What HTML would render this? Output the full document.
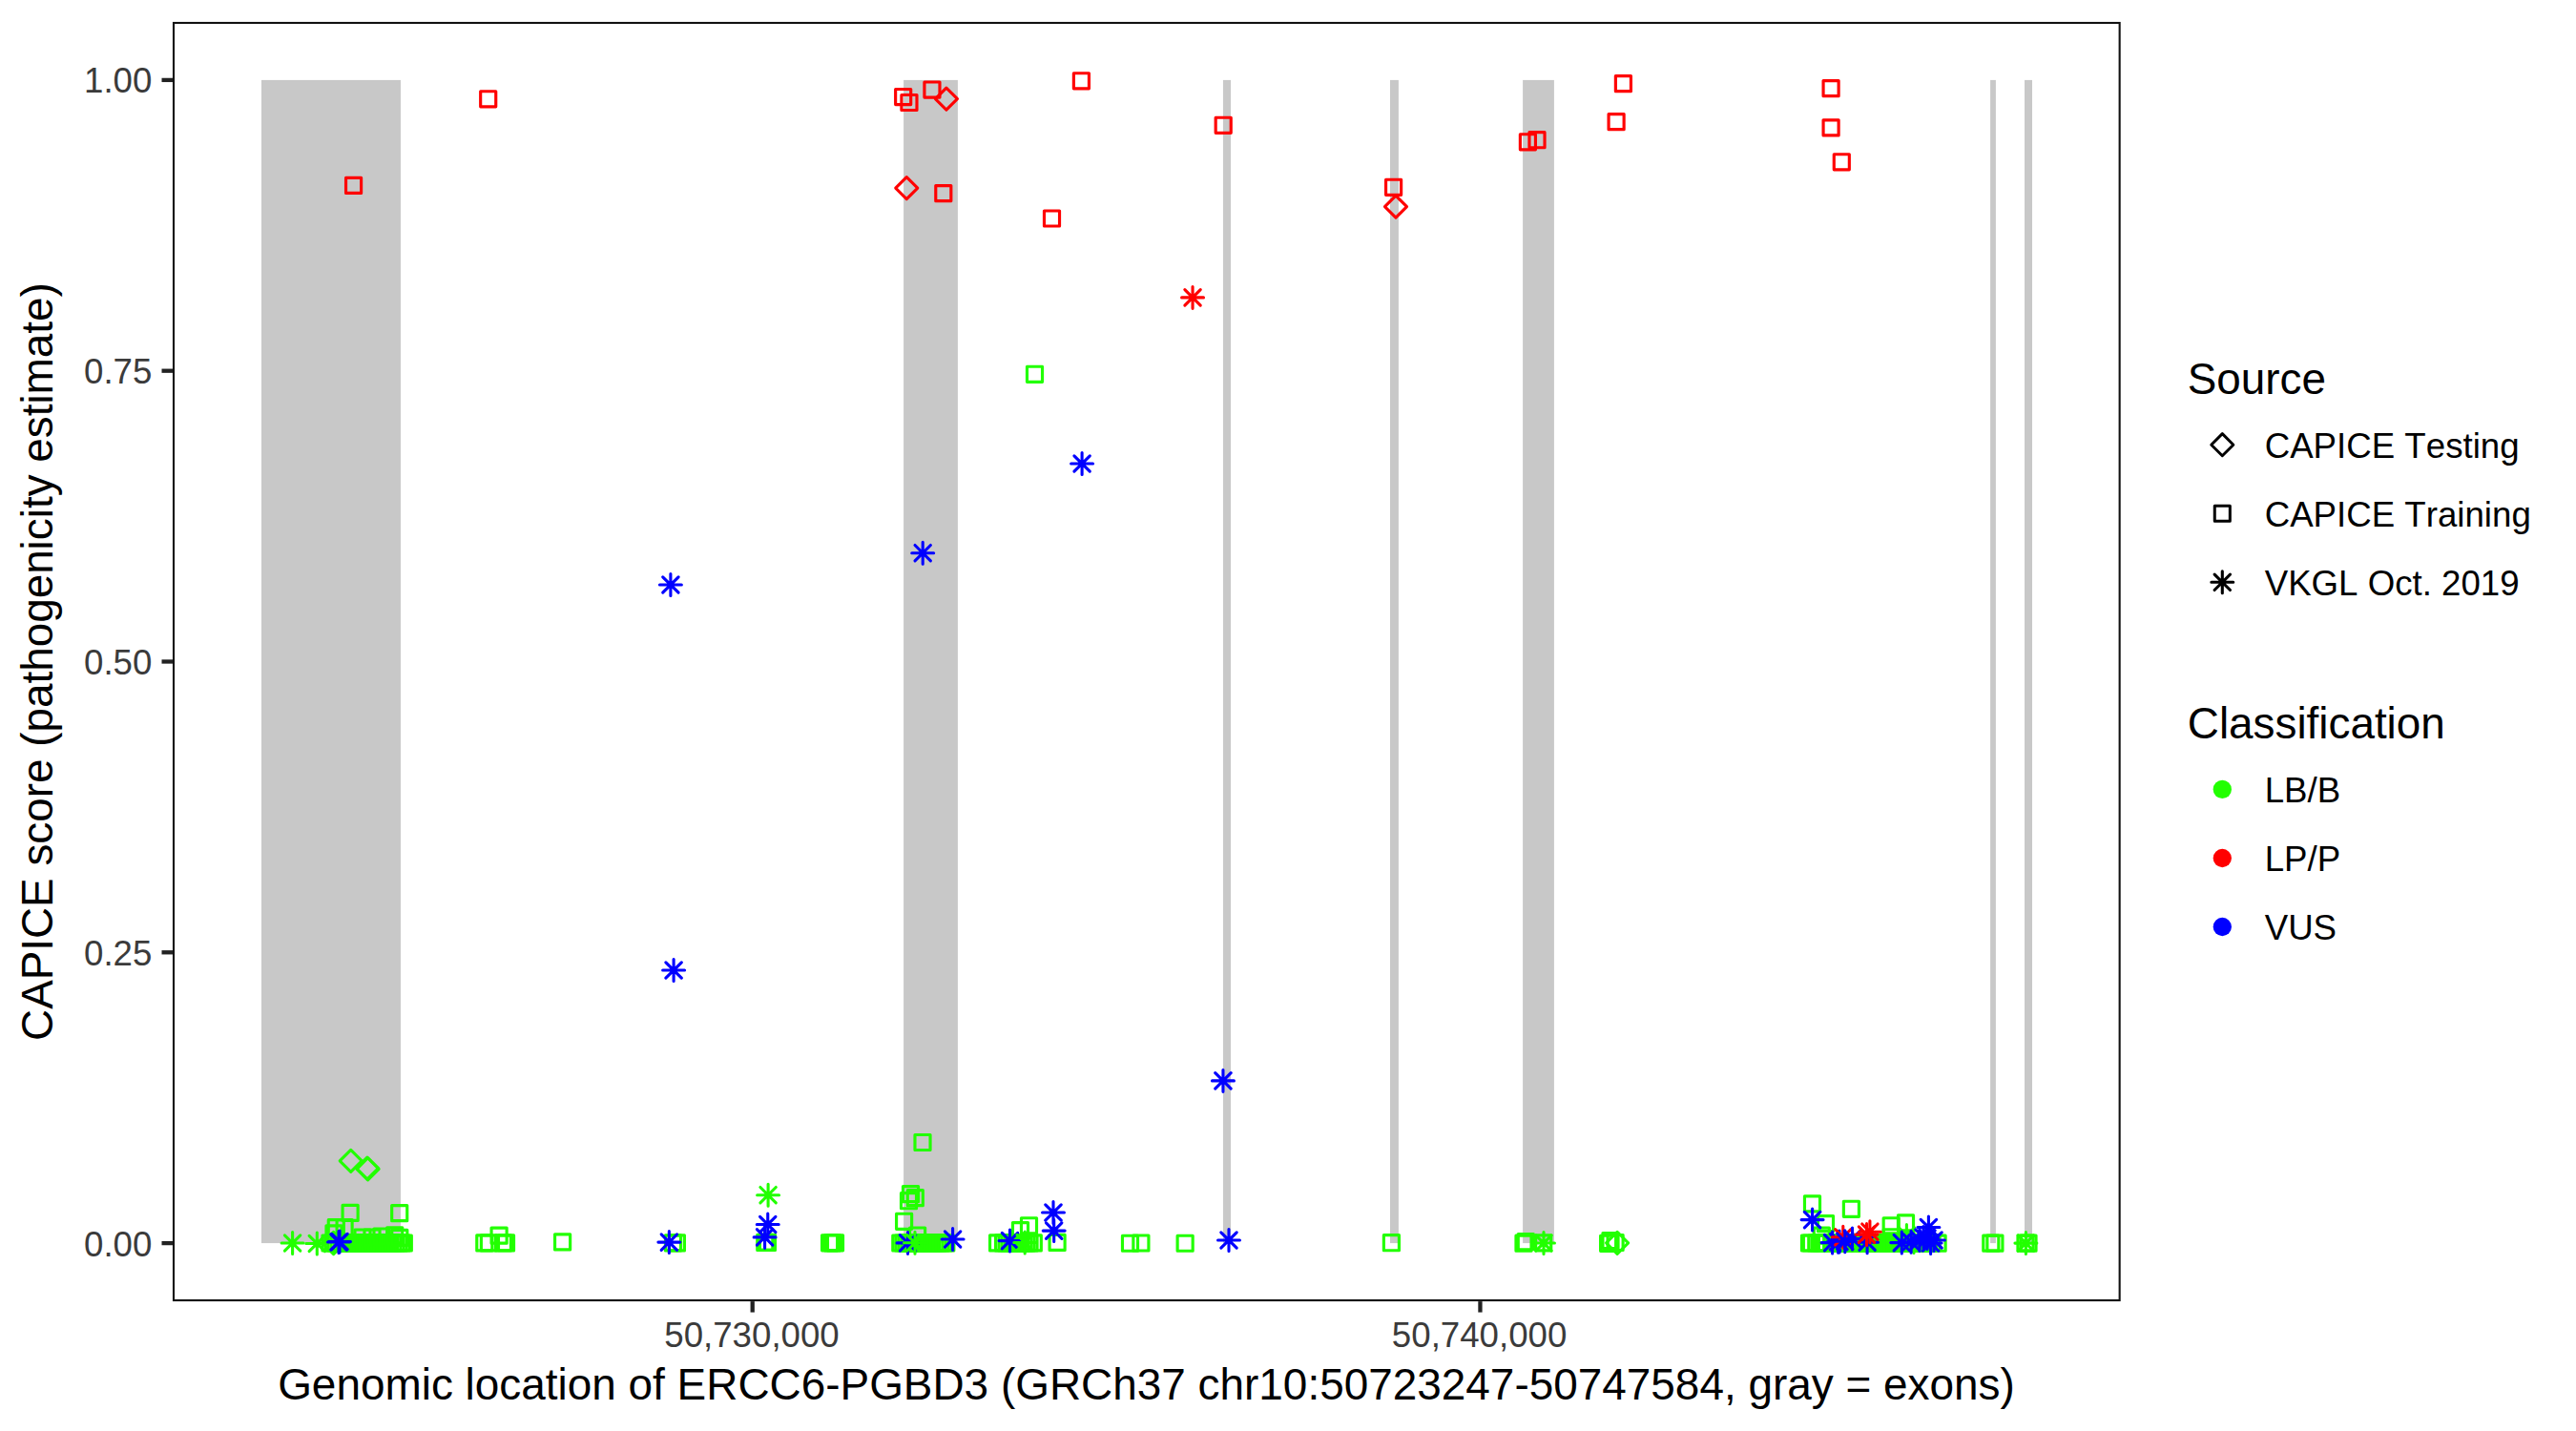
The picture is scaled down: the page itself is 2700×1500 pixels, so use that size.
<!DOCTYPE html>
<html><head><meta charset="utf-8"><title>CAPICE score plot</title>
<style>html,body{margin:0;padding:0;background:#fff;overflow:hidden;}svg{display:block;}text{font-family:"Liberation Sans",Arial,Helvetica,sans-serif;font-kerning:none;}</style>
</head><body>
<svg width="2700" height="1500" viewBox="0 0 2700 1500">
<rect x="0" y="0" width="2700" height="1500" fill="#ffffff"/>
<g fill="#c8c8c8">
<rect x="274" y="83.9" width="145.95" height="1219.2"/>
<rect x="947.1" y="83.9" width="56.8" height="1219.2"/>
<rect x="1281.95" y="83.9" width="8.05" height="1219.2"/>
<rect x="1457" y="83.9" width="8.9" height="1219.2"/>
<rect x="1596.1" y="83.9" width="32.8" height="1219.2"/>
<rect x="2086.1" y="83.9" width="5.8" height="1219.2"/>
<rect x="2122" y="83.9" width="8" height="1219.2"/>
</g>
<g fill="none" stroke-linejoin="round" stroke-linecap="round">
<g stroke-width="3.15"><rect x="362.54" y="186.32" width="16.06" height="16.06" stroke="#ff0000"/></g>
<g stroke-width="3.15"><rect x="503.67" y="95.77" width="16.06" height="16.06" stroke="#ff0000"/></g>
<g stroke-width="3.15"><rect x="938.64" y="93.52" width="16.06" height="16.06" stroke="#ff0000"/></g>
<g stroke-width="3.15"><rect x="944.92" y="99.47" width="16.06" height="16.06" stroke="#ff0000"/></g>
<g stroke-width="3.15"><rect x="968.92" y="86.02" width="16.06" height="16.06" stroke="#ff0000"/></g>
<g stroke-width="3.15"><rect x="980.77" y="194.57" width="16.06" height="16.06" stroke="#ff0000"/></g>
<g stroke-width="3.15"><rect x="1125.37" y="76.77" width="16.06" height="16.06" stroke="#ff0000"/></g>
<g stroke-width="3.15"><rect x="1094.47" y="220.97" width="16.06" height="16.06" stroke="#ff0000"/></g>
<g stroke-width="3.15"><rect x="1274.17" y="123.27" width="16.06" height="16.06" stroke="#ff0000"/></g>
<g stroke-width="3.15"><rect x="1452.57" y="188.27" width="16.06" height="16.06" stroke="#ff0000"/></g>
<g stroke-width="3.15"><rect x="1593.37" y="140.77" width="16.06" height="16.06" stroke="#ff0000"/></g>
<g stroke-width="3.15"><rect x="1602.97" y="138.67" width="16.06" height="16.06" stroke="#ff0000"/></g>
<g stroke-width="3.15"><rect x="1693.37" y="79.57" width="16.06" height="16.06" stroke="#ff0000"/></g>
<g stroke-width="3.15"><rect x="1686.07" y="119.57" width="16.06" height="16.06" stroke="#ff0000"/></g>
<g stroke-width="3.15"><rect x="1911.07" y="84.57" width="16.06" height="16.06" stroke="#ff0000"/></g>
<g stroke-width="3.15"><rect x="1911.07" y="125.87" width="16.06" height="16.06" stroke="#ff0000"/></g>
<g stroke-width="3.15"><rect x="1922.27" y="161.77" width="16.06" height="16.06" stroke="#ff0000"/></g>
<g stroke-width="3.15"><rect x="1076.47" y="384.27" width="16.06" height="16.06" stroke="#22ff00"/></g>
<g stroke-width="3.15"><rect x="958.97" y="1189.47" width="16.06" height="16.06" stroke="#22ff00"/></g>
<g stroke-width="3.15"><rect x="337.97" y="1294.97" width="16.06" height="16.06" stroke="#22ff00"/></g>
<g stroke-width="3.15"><rect x="340.97" y="1294.97" width="16.06" height="16.06" stroke="#22ff00"/></g>
<g stroke-width="3.15"><rect x="343.97" y="1294.97" width="16.06" height="16.06" stroke="#22ff00"/></g>
<g stroke-width="3.15"><rect x="346.97" y="1294.97" width="16.06" height="16.06" stroke="#22ff00"/></g>
<g stroke-width="3.15"><rect x="349.97" y="1294.97" width="16.06" height="16.06" stroke="#22ff00"/></g>
<g stroke-width="3.15"><rect x="352.97" y="1294.97" width="16.06" height="16.06" stroke="#22ff00"/></g>
<g stroke-width="3.15"><rect x="355.97" y="1294.97" width="16.06" height="16.06" stroke="#22ff00"/></g>
<g stroke-width="3.15"><rect x="358.97" y="1294.97" width="16.06" height="16.06" stroke="#22ff00"/></g>
<g stroke-width="3.15"><rect x="361.97" y="1294.97" width="16.06" height="16.06" stroke="#22ff00"/></g>
<g stroke-width="3.15"><rect x="364.97" y="1294.97" width="16.06" height="16.06" stroke="#22ff00"/></g>
<g stroke-width="3.15"><rect x="367.97" y="1294.97" width="16.06" height="16.06" stroke="#22ff00"/></g>
<g stroke-width="3.15"><rect x="370.97" y="1294.97" width="16.06" height="16.06" stroke="#22ff00"/></g>
<g stroke-width="3.15"><rect x="373.97" y="1294.97" width="16.06" height="16.06" stroke="#22ff00"/></g>
<g stroke-width="3.15"><rect x="376.97" y="1294.97" width="16.06" height="16.06" stroke="#22ff00"/></g>
<g stroke-width="3.15"><rect x="379.97" y="1294.97" width="16.06" height="16.06" stroke="#22ff00"/></g>
<g stroke-width="3.15"><rect x="382.97" y="1294.97" width="16.06" height="16.06" stroke="#22ff00"/></g>
<g stroke-width="3.15"><rect x="385.97" y="1294.97" width="16.06" height="16.06" stroke="#22ff00"/></g>
<g stroke-width="3.15"><rect x="388.97" y="1294.97" width="16.06" height="16.06" stroke="#22ff00"/></g>
<g stroke-width="3.15"><rect x="391.97" y="1294.97" width="16.06" height="16.06" stroke="#22ff00"/></g>
<g stroke-width="3.15"><rect x="394.97" y="1294.97" width="16.06" height="16.06" stroke="#22ff00"/></g>
<g stroke-width="3.15"><rect x="397.97" y="1294.97" width="16.06" height="16.06" stroke="#22ff00"/></g>
<g stroke-width="3.15"><rect x="400.97" y="1294.97" width="16.06" height="16.06" stroke="#22ff00"/></g>
<g stroke-width="3.15"><rect x="403.97" y="1294.97" width="16.06" height="16.06" stroke="#22ff00"/></g>
<g stroke-width="3.15"><rect x="406.97" y="1294.97" width="16.06" height="16.06" stroke="#22ff00"/></g>
<g stroke-width="3.15"><rect x="409.97" y="1294.97" width="16.06" height="16.06" stroke="#22ff00"/></g>
<g stroke-width="3.15"><rect x="412.97" y="1294.97" width="16.06" height="16.06" stroke="#22ff00"/></g>
<g stroke-width="3.15"><rect x="415.27" y="1294.97" width="16.06" height="16.06" stroke="#22ff00"/></g>
<g stroke-width="3.15"><rect x="359.07" y="1263.37" width="16.06" height="16.06" stroke="#22ff00"/></g>
<g stroke-width="3.15"><rect x="410.67" y="1263.57" width="16.06" height="16.06" stroke="#22ff00"/></g>
<g stroke-width="3.15"><rect x="344.27" y="1278.67" width="16.06" height="16.06" stroke="#22ff00"/></g>
<g stroke-width="3.15"><rect x="353.07" y="1278.67" width="16.06" height="16.06" stroke="#22ff00"/></g>
<g stroke-width="3.15"><rect x="341.97" y="1284.87" width="16.06" height="16.06" stroke="#22ff00"/></g>
<g stroke-width="3.15"><rect x="371.97" y="1288.97" width="16.06" height="16.06" stroke="#22ff00"/></g>
<g stroke-width="3.15"><rect x="381.97" y="1288.97" width="16.06" height="16.06" stroke="#22ff00"/></g>
<g stroke-width="3.15"><rect x="391.97" y="1287.97" width="16.06" height="16.06" stroke="#22ff00"/></g>
<g stroke-width="3.15"><rect x="405.67" y="1286.77" width="16.06" height="16.06" stroke="#22ff00"/></g>
<g stroke-width="3.15"><rect x="410.77" y="1289.37" width="16.06" height="16.06" stroke="#22ff00"/></g>
<g stroke-width="3.15"><rect x="499.77" y="1294.82" width="16.06" height="16.06" stroke="#22ff00"/></g>
<g stroke-width="3.15"><rect x="504.37" y="1294.82" width="16.06" height="16.06" stroke="#22ff00"/></g>
<g stroke-width="3.15"><rect x="515.07" y="1287.07" width="16.06" height="16.06" stroke="#22ff00"/></g>
<g stroke-width="3.15"><rect x="519.37" y="1294.82" width="16.06" height="16.06" stroke="#22ff00"/></g>
<g stroke-width="3.15"><rect x="522.47" y="1294.82" width="16.06" height="16.06" stroke="#22ff00"/></g>
<g stroke-width="3.15"><rect x="581.57" y="1293.87" width="16.06" height="16.06" stroke="#22ff00"/></g>
<g stroke-width="3.15"><rect x="697.47" y="1294.87" width="16.06" height="16.06" stroke="#22ff00"/></g>
<g stroke-width="3.15"><rect x="701.37" y="1294.87" width="16.06" height="16.06" stroke="#22ff00"/></g>
<g stroke-width="3.15"><rect x="793.77" y="1294.37" width="16.06" height="16.06" stroke="#22ff00"/></g>
<g stroke-width="3.15"><rect x="796.42" y="1294.37" width="16.06" height="16.06" stroke="#22ff00"/></g>
<g stroke-width="3.15"><rect x="861.57" y="1294.77" width="16.06" height="16.06" stroke="#22ff00"/></g>
<g stroke-width="3.15"><rect x="864.47" y="1294.77" width="16.06" height="16.06" stroke="#22ff00"/></g>
<g stroke-width="3.15"><rect x="867.47" y="1294.77" width="16.06" height="16.06" stroke="#22ff00"/></g>
<g stroke-width="3.15"><rect x="946.47" y="1243.57" width="16.06" height="16.06" stroke="#22ff00"/></g>
<g stroke-width="3.15"><rect x="951.27" y="1247.57" width="16.06" height="16.06" stroke="#22ff00"/></g>
<g stroke-width="3.15"><rect x="944.47" y="1250.67" width="16.06" height="16.06" stroke="#22ff00"/></g>
<g stroke-width="3.15"><rect x="939.57" y="1272.27" width="16.06" height="16.06" stroke="#22ff00"/></g>
<g stroke-width="3.15"><rect x="953.57" y="1286.97" width="16.06" height="16.06" stroke="#22ff00"/></g>
<g stroke-width="3.15"><rect x="935.77" y="1294.97" width="16.06" height="16.06" stroke="#22ff00"/></g>
<g stroke-width="3.15"><rect x="938.77" y="1294.97" width="16.06" height="16.06" stroke="#22ff00"/></g>
<g stroke-width="3.15"><rect x="941.77" y="1294.97" width="16.06" height="16.06" stroke="#22ff00"/></g>
<g stroke-width="3.15"><rect x="944.77" y="1294.97" width="16.06" height="16.06" stroke="#22ff00"/></g>
<g stroke-width="3.15"><rect x="947.77" y="1294.97" width="16.06" height="16.06" stroke="#22ff00"/></g>
<g stroke-width="3.15"><rect x="950.77" y="1294.97" width="16.06" height="16.06" stroke="#22ff00"/></g>
<g stroke-width="3.15"><rect x="953.77" y="1294.97" width="16.06" height="16.06" stroke="#22ff00"/></g>
<g stroke-width="3.15"><rect x="956.77" y="1294.97" width="16.06" height="16.06" stroke="#22ff00"/></g>
<g stroke-width="3.15"><rect x="959.77" y="1294.97" width="16.06" height="16.06" stroke="#22ff00"/></g>
<g stroke-width="3.15"><rect x="962.77" y="1294.97" width="16.06" height="16.06" stroke="#22ff00"/></g>
<g stroke-width="3.15"><rect x="965.77" y="1294.97" width="16.06" height="16.06" stroke="#22ff00"/></g>
<g stroke-width="3.15"><rect x="968.77" y="1294.97" width="16.06" height="16.06" stroke="#22ff00"/></g>
<g stroke-width="3.15"><rect x="971.77" y="1294.97" width="16.06" height="16.06" stroke="#22ff00"/></g>
<g stroke-width="3.15"><rect x="974.77" y="1294.97" width="16.06" height="16.06" stroke="#22ff00"/></g>
<g stroke-width="3.15"><rect x="977.77" y="1294.97" width="16.06" height="16.06" stroke="#22ff00"/></g>
<g stroke-width="3.15"><rect x="980.77" y="1294.97" width="16.06" height="16.06" stroke="#22ff00"/></g>
<g stroke-width="3.15"><rect x="983.77" y="1294.97" width="16.06" height="16.06" stroke="#22ff00"/></g>
<g stroke-width="3.15"><rect x="1037.57" y="1294.87" width="16.06" height="16.06" stroke="#22ff00"/></g>
<g stroke-width="3.15"><rect x="1043.57" y="1294.87" width="16.06" height="16.06" stroke="#22ff00"/></g>
<g stroke-width="3.15"><rect x="1046.97" y="1294.87" width="16.06" height="16.06" stroke="#22ff00"/></g>
<g stroke-width="3.15"><rect x="1049.97" y="1294.87" width="16.06" height="16.06" stroke="#22ff00"/></g>
<g stroke-width="3.15"><rect x="1052.97" y="1294.87" width="16.06" height="16.06" stroke="#22ff00"/></g>
<g stroke-width="3.15"><rect x="1055.97" y="1294.87" width="16.06" height="16.06" stroke="#22ff00"/></g>
<g stroke-width="3.15"><rect x="1058.97" y="1294.87" width="16.06" height="16.06" stroke="#22ff00"/></g>
<g stroke-width="3.15"><rect x="1061.97" y="1294.87" width="16.06" height="16.06" stroke="#22ff00"/></g>
<g stroke-width="3.15"><rect x="1064.97" y="1294.87" width="16.06" height="16.06" stroke="#22ff00"/></g>
<g stroke-width="3.15"><rect x="1067.97" y="1294.87" width="16.06" height="16.06" stroke="#22ff00"/></g>
<g stroke-width="3.15"><rect x="1070.97" y="1294.87" width="16.06" height="16.06" stroke="#22ff00"/></g>
<g stroke-width="3.15"><rect x="1075.27" y="1294.87" width="16.06" height="16.06" stroke="#22ff00"/></g>
<g stroke-width="3.15"><rect x="1061.47" y="1281.57" width="16.06" height="16.06" stroke="#22ff00"/></g>
<g stroke-width="3.15"><rect x="1070.47" y="1276.77" width="16.06" height="16.06" stroke="#22ff00"/></g>
<g stroke-width="3.15"><rect x="1100.07" y="1294.37" width="16.06" height="16.06" stroke="#22ff00"/></g>
<g stroke-width="3.15"><rect x="1176.47" y="1295.22" width="16.06" height="16.06" stroke="#22ff00"/></g>
<g stroke-width="3.15"><rect x="1187.87" y="1294.97" width="16.06" height="16.06" stroke="#22ff00"/></g>
<g stroke-width="3.15"><rect x="1234.12" y="1295.22" width="16.06" height="16.06" stroke="#22ff00"/></g>
<g stroke-width="3.15"><rect x="1450.37" y="1294.67" width="16.06" height="16.06" stroke="#22ff00"/></g>
<g stroke-width="3.15"><rect x="1588.97" y="1295.17" width="16.06" height="16.06" stroke="#22ff00"/></g>
<g stroke-width="3.15"><rect x="1591.27" y="1293.67" width="16.06" height="16.06" stroke="#22ff00"/></g>
<g stroke-width="3.15"><rect x="1609.67" y="1294.87" width="16.06" height="16.06" stroke="#22ff00"/></g>
<g stroke-width="3.15"><rect x="1677.57" y="1295.27" width="16.06" height="16.06" stroke="#22ff00"/></g>
<g stroke-width="3.15"><rect x="1679.97" y="1292.47" width="16.06" height="16.06" stroke="#22ff00"/></g>
<g stroke-width="3.15"><rect x="1685.07" y="1294.47" width="16.06" height="16.06" stroke="#22ff00"/></g>
<g stroke-width="3.15"><rect x="1891.47" y="1253.87" width="16.06" height="16.06" stroke="#22ff00"/></g>
<g stroke-width="3.15"><rect x="1932.37" y="1259.27" width="16.06" height="16.06" stroke="#22ff00"/></g>
<g stroke-width="3.15"><rect x="1905.47" y="1274.57" width="16.06" height="16.06" stroke="#22ff00"/></g>
<g stroke-width="3.15"><rect x="1901.27" y="1287.07" width="16.06" height="16.06" stroke="#22ff00"/></g>
<g stroke-width="3.15"><rect x="1974.17" y="1276.77" width="16.06" height="16.06" stroke="#22ff00"/></g>
<g stroke-width="3.15"><rect x="1989.47" y="1273.87" width="16.06" height="16.06" stroke="#22ff00"/></g>
<g stroke-width="3.15"><rect x="1974.17" y="1288.77" width="16.06" height="16.06" stroke="#22ff00"/></g>
<g stroke-width="3.15"><rect x="1888.47" y="1294.97" width="16.06" height="16.06" stroke="#22ff00"/></g>
<g stroke-width="3.15"><rect x="1890.37" y="1294.97" width="16.06" height="16.06" stroke="#22ff00"/></g>
<g stroke-width="3.15"><rect x="1895.77" y="1294.97" width="16.06" height="16.06" stroke="#22ff00"/></g>
<g stroke-width="3.15"><rect x="1898.92" y="1294.97" width="16.06" height="16.06" stroke="#22ff00"/></g>
<g stroke-width="3.15"><rect x="1901.57" y="1294.97" width="16.06" height="16.06" stroke="#22ff00"/></g>
<g stroke-width="3.15"><rect x="1904.97" y="1294.97" width="16.06" height="16.06" stroke="#22ff00"/></g>
<g stroke-width="3.15"><rect x="1911.97" y="1294.97" width="16.06" height="16.06" stroke="#22ff00"/></g>
<g stroke-width="3.15"><rect x="1915.47" y="1294.97" width="16.06" height="16.06" stroke="#22ff00"/></g>
<g stroke-width="3.15"><rect x="1918.97" y="1294.97" width="16.06" height="16.06" stroke="#22ff00"/></g>
<g stroke-width="3.15"><rect x="1922.47" y="1294.97" width="16.06" height="16.06" stroke="#22ff00"/></g>
<g stroke-width="3.15"><rect x="1925.97" y="1294.97" width="16.06" height="16.06" stroke="#22ff00"/></g>
<g stroke-width="3.15"><rect x="1929.47" y="1294.97" width="16.06" height="16.06" stroke="#22ff00"/></g>
<g stroke-width="3.15"><rect x="1932.97" y="1294.97" width="16.06" height="16.06" stroke="#22ff00"/></g>
<g stroke-width="3.15"><rect x="1936.47" y="1294.97" width="16.06" height="16.06" stroke="#22ff00"/></g>
<g stroke-width="3.15"><rect x="1939.97" y="1294.97" width="16.06" height="16.06" stroke="#22ff00"/></g>
<g stroke-width="3.15"><rect x="1943.47" y="1294.97" width="16.06" height="16.06" stroke="#22ff00"/></g>
<g stroke-width="3.15"><rect x="1946.97" y="1294.97" width="16.06" height="16.06" stroke="#22ff00"/></g>
<g stroke-width="3.15"><rect x="1950.47" y="1294.97" width="16.06" height="16.06" stroke="#22ff00"/></g>
<g stroke-width="3.15"><rect x="1953.97" y="1294.97" width="16.06" height="16.06" stroke="#22ff00"/></g>
<g stroke-width="3.15"><rect x="1957.47" y="1294.97" width="16.06" height="16.06" stroke="#22ff00"/></g>
<g stroke-width="3.15"><rect x="1960.97" y="1294.97" width="16.06" height="16.06" stroke="#22ff00"/></g>
<g stroke-width="3.15"><rect x="1964.47" y="1294.97" width="16.06" height="16.06" stroke="#22ff00"/></g>
<g stroke-width="3.15"><rect x="1967.97" y="1294.97" width="16.06" height="16.06" stroke="#22ff00"/></g>
<g stroke-width="3.15"><rect x="1971.47" y="1294.97" width="16.06" height="16.06" stroke="#22ff00"/></g>
<g stroke-width="3.15"><rect x="1974.97" y="1294.97" width="16.06" height="16.06" stroke="#22ff00"/></g>
<g stroke-width="3.15"><rect x="1978.47" y="1294.97" width="16.06" height="16.06" stroke="#22ff00"/></g>
<g stroke-width="3.15"><rect x="1981.97" y="1294.97" width="16.06" height="16.06" stroke="#22ff00"/></g>
<g stroke-width="3.15"><rect x="1985.47" y="1294.97" width="16.06" height="16.06" stroke="#22ff00"/></g>
<g stroke-width="3.15"><rect x="1988.97" y="1294.97" width="16.06" height="16.06" stroke="#22ff00"/></g>
<g stroke-width="3.15"><rect x="1992.47" y="1294.97" width="16.06" height="16.06" stroke="#22ff00"/></g>
<g stroke-width="3.15"><rect x="1995.97" y="1294.97" width="16.06" height="16.06" stroke="#22ff00"/></g>
<g stroke-width="3.15"><rect x="1999.47" y="1294.97" width="16.06" height="16.06" stroke="#22ff00"/></g>
<g stroke-width="3.15"><rect x="2002.97" y="1294.97" width="16.06" height="16.06" stroke="#22ff00"/></g>
<g stroke-width="3.15"><rect x="2006.47" y="1294.97" width="16.06" height="16.06" stroke="#22ff00"/></g>
<g stroke-width="3.15"><rect x="2009.97" y="1294.97" width="16.06" height="16.06" stroke="#22ff00"/></g>
<g stroke-width="3.15"><rect x="2013.47" y="1294.97" width="16.06" height="16.06" stroke="#22ff00"/></g>
<g stroke-width="3.15"><rect x="2016.97" y="1294.97" width="16.06" height="16.06" stroke="#22ff00"/></g>
<g stroke-width="3.15"><rect x="2023.07" y="1295.17" width="16.06" height="16.06" stroke="#22ff00"/></g>
<g stroke-width="3.15"><rect x="2078.77" y="1295.07" width="16.06" height="16.06" stroke="#22ff00"/></g>
<g stroke-width="3.15"><rect x="2082.87" y="1295.07" width="16.06" height="16.06" stroke="#22ff00"/></g>
<g stroke-width="3.15"><rect x="2114.97" y="1295.07" width="16.06" height="16.06" stroke="#22ff00"/></g>
<g stroke-width="3.15"><rect x="2117.97" y="1295.07" width="16.06" height="16.06" stroke="#22ff00"/></g>
<g stroke-width="3.05"><path d="M980.35 103.6L991.9 92.05L1003.45 103.6L991.9 115.15Z" stroke="#ff0000"/></g>
<g stroke-width="3.05"><path d="M938.7 197.1L950.25 185.55L961.8 197.1L950.25 208.65Z" stroke="#ff0000"/></g>
<g stroke-width="3.05"><path d="M1451.45 216.6L1463 205.05L1474.55 216.6L1463 228.15Z" stroke="#ff0000"/></g>
<g stroke-width="3.05"><path d="M356.15 1216.9L367.7 1205.35L379.25 1216.9L367.7 1228.45Z" stroke="#22ff00"/></g>
<g stroke-width="3.05"><path d="M373.35 1224.6L384.9 1213.05L396.45 1224.6L384.9 1236.15Z" stroke="#22ff00"/></g>
<g stroke-width="3.05"><path d="M374.05 1225.3L385.6 1213.75L397.15 1225.3L385.6 1236.85Z" stroke="#22ff00"/></g>
<g stroke-width="3.05"><path d="M338.05 1303L349.6 1291.45L361.15 1303L349.6 1314.55Z" stroke="#22ff00"/></g>
<g stroke-width="3.05"><path d="M1683.55 1302.8L1695.1 1291.25L1706.65 1302.8L1695.1 1314.35Z" stroke="#22ff00"/></g>
<g stroke-width="3.1"><path d="M1238.6 311.9H1261.5M1250.05 300.45V323.35M1241.85 303.7L1258.25 320.1M1241.85 320.1L1258.25 303.7" stroke="#ff0000"/></g>
<g stroke-width="3.1"><path d="M1122.65 486H1145.55M1134.1 474.55V497.45M1125.9 477.8L1142.3 494.2M1125.9 494.2L1142.3 477.8" stroke="#0000ff"/></g>
<g stroke-width="3.1"><path d="M691.45 613H714.35M702.9 601.55V624.45M694.7 604.8L711.1 621.2M694.7 621.2L711.1 604.8" stroke="#0000ff"/></g>
<g stroke-width="3.1"><path d="M955.75 579.7H978.65M967.2 568.25V591.15M959 571.5L975.4 587.9M959 587.9L975.4 571.5" stroke="#0000ff"/></g>
<g stroke-width="3.1"><path d="M694.65 1017H717.55M706.1 1005.55V1028.45M697.9 1008.8L714.3 1025.2M697.9 1025.2L714.3 1008.8" stroke="#0000ff"/></g>
<g stroke-width="3.1"><path d="M1270.5 1132.9H1293.4M1281.95 1121.45V1144.35M1273.75 1124.7L1290.15 1141.1M1273.75 1141.1L1290.15 1124.7" stroke="#0000ff"/></g>
<g stroke-width="3.1"><path d="M793.65 1252.7H816.55M805.1 1241.25V1264.15M796.9 1244.5L813.3 1260.9M796.9 1260.9L813.3 1244.5" stroke="#22ff00"/></g>
<g stroke-width="3.1"><path d="M295.15 1303H318.05M306.6 1291.55V1314.45M298.4 1294.8L314.8 1311.2M298.4 1311.2L314.8 1294.8" stroke="#22ff00"/></g>
<g stroke-width="3.1"><path d="M320.85 1303.5H343.75M332.3 1292.05V1314.95M324.1 1295.3L340.5 1311.7M324.1 1311.7L340.5 1295.3" stroke="#22ff00"/></g>
<g stroke-width="3.1"><path d="M343.55 1302H366.45M355 1290.55V1313.45M346.8 1293.8L363.2 1310.2M346.8 1310.2L363.2 1293.8" stroke="#0000ff"/></g>
<g stroke-width="3.1"><path d="M344.55 1301.5H367.45M356 1290.05V1312.95M347.8 1293.3L364.2 1309.7M347.8 1309.7L364.2 1293.3" stroke="#0000ff"/></g>
<g stroke-width="3.1"><path d="M689.9 1302.1H712.8M701.35 1290.65V1313.55M693.15 1293.9L709.55 1310.3M693.15 1310.3L709.55 1293.9" stroke="#0000ff"/></g>
<g stroke-width="3.1"><path d="M793.3 1283.5H816.2M804.75 1272.05V1294.95M796.55 1275.3L812.95 1291.7M796.55 1291.7L812.95 1275.3" stroke="#0000ff"/></g>
<g stroke-width="3.1"><path d="M790.15 1296.9H813.05M801.6 1285.45V1308.35M793.4 1288.7L809.8 1305.1M793.4 1305.1L809.8 1288.7" stroke="#0000ff"/></g>
<g stroke-width="3.1"><path d="M940.05 1302.9H962.95M951.5 1291.45V1314.35M943.3 1294.7L959.7 1311.1M943.3 1311.1L959.7 1294.7" stroke="#0000ff"/></g>
<g stroke-width="3.1"><path d="M947.55 1302.8H970.45M959 1291.35V1314.25M950.8 1294.6L967.2 1311M950.8 1311L967.2 1294.6" stroke="#22ff00"/></g>
<g stroke-width="3.1"><path d="M987.15 1299H1010.05M998.6 1287.55V1310.45M990.4 1290.8L1006.8 1307.2M990.4 1307.2L1006.8 1290.8" stroke="#0000ff"/></g>
<g stroke-width="3.1"><path d="M1047.05 1300.6H1069.95M1058.5 1289.15V1312.05M1050.3 1292.4L1066.7 1308.8M1050.3 1308.8L1066.7 1292.4" stroke="#0000ff"/></g>
<g stroke-width="3.1"><path d="M1062.75 1302.5H1085.65M1074.2 1291.05V1313.95M1066 1294.3L1082.4 1310.7M1066 1310.7L1082.4 1294.3" stroke="#22ff00"/></g>
<g stroke-width="3.1"><path d="M1092.55 1271H1115.45M1104 1259.55V1282.45M1095.8 1262.8L1112.2 1279.2M1095.8 1279.2L1112.2 1262.8" stroke="#0000ff"/></g>
<g stroke-width="3.1"><path d="M1093.25 1290.1H1116.15M1104.7 1278.65V1301.55M1096.5 1281.9L1112.9 1298.3M1096.5 1298.3L1112.9 1281.9" stroke="#0000ff"/></g>
<g stroke-width="3.1"><path d="M1276.55 1300H1299.45M1288 1288.55V1311.45M1279.8 1291.8L1296.2 1308.2M1279.8 1308.2L1296.2 1291.8" stroke="#0000ff"/></g>
<g stroke-width="3.1"><path d="M1606.55 1303H1629.45M1618 1291.55V1314.45M1609.8 1294.8L1626.2 1311.2M1609.8 1311.2L1626.2 1294.8" stroke="#22ff00"/></g>
<g stroke-width="3.1"><path d="M1986.95 1295H2009.85M1998.4 1283.55V1306.45M1990.2 1286.8L2006.6 1303.2M1990.2 1303.2L2006.6 1286.8" stroke="#22ff00"/></g>
<g stroke-width="3.1"><path d="M1994.55 1302H2017.45M2006 1290.55V1313.45M1997.8 1293.8L2014.2 1310.2M1997.8 1310.2L2014.2 1293.8" stroke="#22ff00"/></g>
<g stroke-width="3.1"><path d="M1888.15 1278.6H1911.05M1899.6 1267.15V1290.05M1891.4 1270.4L1907.8 1286.8M1891.4 1286.8L1907.8 1270.4" stroke="#0000ff"/></g>
<g stroke-width="3.1"><path d="M1909.15 1302.6H1932.05M1920.6 1291.15V1314.05M1912.4 1294.4L1928.8 1310.8M1912.4 1310.8L1928.8 1294.4" stroke="#0000ff"/></g>
<g stroke-width="3.1"><path d="M1915.15 1301.7H1938.05M1926.6 1290.25V1313.15M1918.4 1293.5L1934.8 1309.9M1918.4 1309.9L1934.8 1293.5" stroke="#0000ff"/></g>
<g stroke-width="3.1"><path d="M1916.55 1301.5H1939.45M1928 1290.05V1312.95M1919.8 1293.3L1936.2 1309.7M1919.8 1309.7L1936.2 1293.3" stroke="#0000ff"/></g>
<g stroke-width="3.1"><path d="M1920.35 1296.8H1943.25M1931.8 1285.35V1308.25M1923.6 1288.6L1940 1305M1923.6 1305L1940 1288.6" stroke="#ff0000"/></g>
<g stroke-width="3.1"><path d="M1922.35 1301.2H1945.25M1933.8 1289.75V1312.65M1925.6 1293L1942 1309.4M1925.6 1309.4L1942 1293" stroke="#0000ff"/></g>
<g stroke-width="3.1"><path d="M1930.05 1298.5H1952.95M1941.5 1287.05V1309.95M1933.3 1290.3L1949.7 1306.7M1933.3 1306.7L1949.7 1290.3" stroke="#0000ff"/></g>
<g stroke-width="3.1"><path d="M1945.65 1302.2H1968.55M1957.1 1290.75V1313.65M1948.9 1294L1965.3 1310.4M1948.9 1310.4L1965.3 1294" stroke="#0000ff"/></g>
<g stroke-width="3.1"><path d="M1981.85 1302.6H2004.75M1993.3 1291.15V1314.05M1985.1 1294.4L2001.5 1310.8M1985.1 1310.8L2001.5 1294.4" stroke="#0000ff"/></g>
<g stroke-width="3.1"><path d="M1991.65 1301.8H2014.55M2003.1 1290.35V1313.25M1994.9 1293.6L2011.3 1310M1994.9 1310L2011.3 1293.6" stroke="#0000ff"/></g>
<g stroke-width="3.1"><path d="M2009.95 1286.5H2032.85M2021.4 1275.05V1297.95M2013.2 1278.3L2029.6 1294.7M2013.2 1294.7L2029.6 1278.3" stroke="#0000ff"/></g>
<g stroke-width="3.1"><path d="M2012.15 1303H2035.05M2023.6 1291.55V1314.45M2015.4 1294.8L2031.8 1311.2M2015.4 1311.2L2031.8 1294.8" stroke="#0000ff"/></g>
<g stroke-width="3.1"><path d="M2000.55 1300H2023.45M2012 1288.55V1311.45M2003.8 1291.8L2020.2 1308.2M2003.8 1308.2L2020.2 1291.8" stroke="#0000ff"/></g>
<g stroke-width="3.1"><path d="M2004.55 1297H2027.45M2016 1285.55V1308.45M2007.8 1288.8L2024.2 1305.2M2007.8 1305.2L2024.2 1288.8" stroke="#0000ff"/></g>
<g stroke-width="3.1"><path d="M2008.55 1298H2031.45M2020 1286.55V1309.45M2011.8 1289.8L2028.2 1306.2M2011.8 1306.2L2028.2 1289.8" stroke="#0000ff"/></g>
<g stroke-width="3.1"><path d="M2015.55 1300H2038.45M2027 1288.55V1311.45M2018.8 1291.8L2035.2 1308.2M2018.8 1308.2L2035.2 1291.8" stroke="#0000ff"/></g>
<g stroke-width="3.1"><path d="M1945.05 1294.1H1967.95M1956.5 1282.65V1305.55M1948.3 1285.9L1964.7 1302.3M1948.3 1302.3L1964.7 1285.9" stroke="#ff0000"/></g>
<g stroke-width="3.1"><path d="M1948.45 1291.2H1971.35M1959.9 1279.75V1302.65M1951.7 1283L1968.1 1299.4M1951.7 1299.4L1968.1 1283" stroke="#ff0000"/></g>
<g stroke-width="3.1"><path d="M2111.95 1303.1H2134.85M2123.4 1291.65V1314.55M2115.2 1294.9L2131.6 1311.3M2115.2 1311.3L2131.6 1294.9" stroke="#22ff00"/></g>
</g>
<rect x="182" y="24" width="2039.65" height="1339.05" fill="none" stroke="#111111" stroke-width="2.1"/>
<g stroke="#222222" stroke-width="4.3">
<line x1="169.5" y1="83.9" x2="181.1" y2="83.9"/>
<line x1="169.5" y1="388.7" x2="181.1" y2="388.7"/>
<line x1="169.5" y1="693.5" x2="181.1" y2="693.5"/>
<line x1="169.5" y1="998.3" x2="181.1" y2="998.3"/>
<line x1="169.5" y1="1303.1" x2="181.1" y2="1303.1"/>
<line x1="788.7" y1="1364.1" x2="788.7" y2="1375.6"/>
<line x1="1551.45" y1="1364.1" x2="1551.45" y2="1375.6"/>
</g>
<g fill="#3b3b3b" font-size="36.67px">
<text x="159.4" y="97.3" text-anchor="end">1.00</text>
<text x="159.4" y="402.1" text-anchor="end">0.75</text>
<text x="159.4" y="706.9" text-anchor="end">0.50</text>
<text x="159.4" y="1011.7" text-anchor="end">0.25</text>
<text x="159.4" y="1316.5" text-anchor="end">0.00</text>
<text x="788.0" y="1412.2" text-anchor="middle">50,730,000</text>
<text x="1550.6" y="1412.2" text-anchor="middle">50,740,000</text>
</g>
<text x="1201.5" y="1467.0" text-anchor="middle" font-size="45.92px" fill="#000">Genomic location of ERCC6-PGBD3 (GRCh37 chr10:50723247-50747584, gray = exons)</text>
<text transform="translate(55.0 693.6) rotate(-90)" x="0" y="0" text-anchor="middle" font-size="45.83px" fill="#000">CAPICE score (pathogenicity estimate)</text>
<g fill="#000">
<text x="2292.8" y="412.8" font-size="45.83px">Source</text>
<text x="2292.8" y="773.8" font-size="45.83px">Classification</text>
<text x="2373.7" y="479.5" font-size="36.67px">CAPICE Testing</text>
<text x="2373.7" y="551.6" font-size="36.67px">CAPICE Training</text>
<text x="2373.7" y="623.6" font-size="36.67px">VKGL Oct. 2019</text>
</g>
<g fill="none" stroke-linejoin="round" stroke-linecap="round">
<g stroke-width="2.95"><path d="M2317.75 466.2L2329.3 454.65L2340.85 466.2L2329.3 477.75Z" stroke="#000"/></g>
<g stroke-width="3.0"><rect x="2321.27" y="530.27" width="16.06" height="16.06" stroke="#000"/></g>
<g stroke-width="3.1"><path d="M2317.85 610.3H2340.75M2329.3 598.85V621.75M2321.1 602.1L2337.5 618.5M2321.1 618.5L2337.5 602.1" stroke="#000"/></g>
</g>
<circle cx="2329.3" cy="827.4" r="9.65" fill="#22ff00"/>
<text x="2373.7" y="840.7" font-size="36.67px" fill="#000">LB/B</text>
<circle cx="2329.3" cy="899.5" r="9.65" fill="#ff0000"/>
<text x="2373.7" y="912.8" font-size="36.67px" fill="#000">LP/P</text>
<circle cx="2329.3" cy="971.5" r="9.65" fill="#0000ff"/>
<text x="2373.7" y="984.8" font-size="36.67px" fill="#000">VUS</text>
</svg>
</body></html>
